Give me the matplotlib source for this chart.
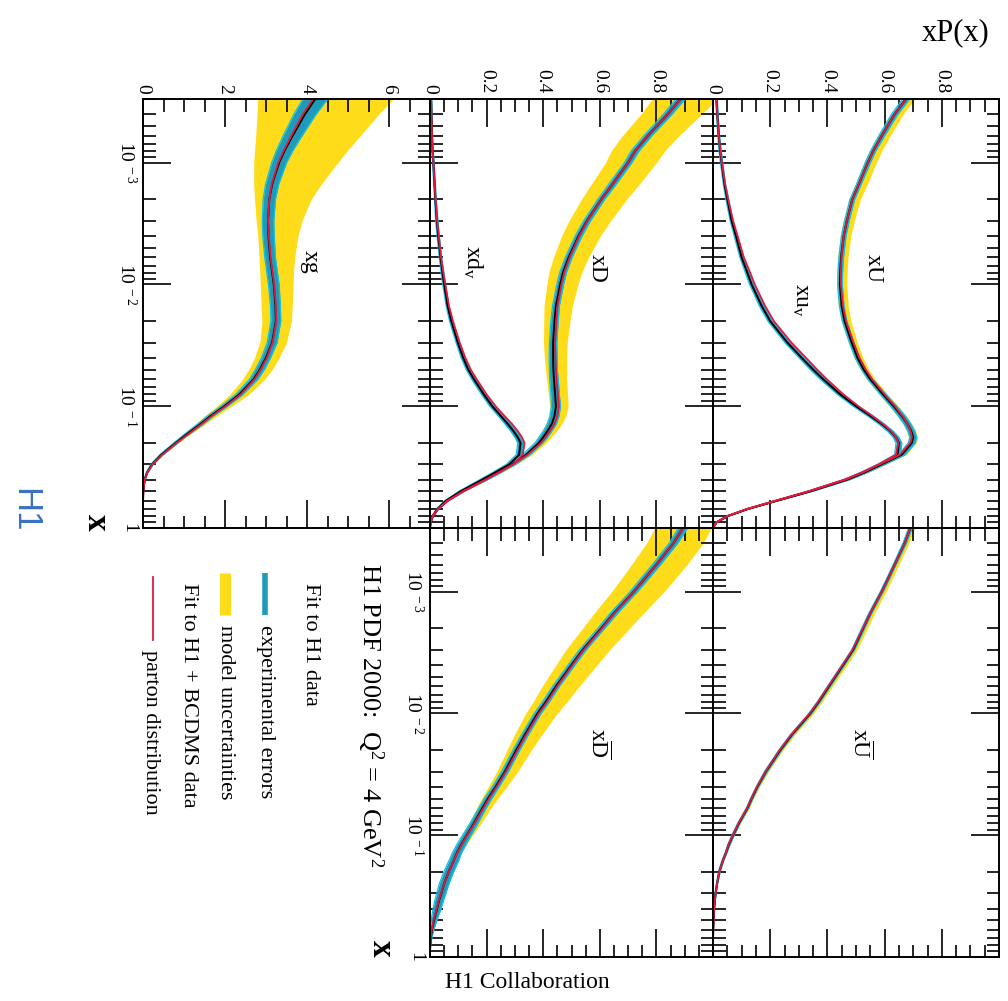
import matplotlib
matplotlib.use('Agg')
import matplotlib.pyplot as plt
from matplotlib.ticker import FixedLocator, FixedFormatter, LogLocator, MultipleLocator, NullFormatter

plt.rcParams['font.family'] = ['Liberation Serif', 'DejaVu Serif']
plt.rcParams['mathtext.fontset'] = 'custom'
plt.rcParams['mathtext.rm'] = 'Liberation Serif'
plt.rcParams['mathtext.it'] = 'Liberation Serif:italic'

# x grid shared by all distributions
xs = [3e-4, 4e-4, 6e-4, 8e-4, 1e-3,
      1.5e-3, 2e-3, 3e-3, 4e-3, 6e-3,
      8e-3, 0.01, 0.015, 0.02, 0.03,
      0.04, 0.05, 0.06, 0.08, 0.1,
      0.12, 0.14, 0.16, 0.18, 0.2,
      0.25, 0.3, 0.35, 0.4, 0.5,
      0.6, 0.7, 0.8, 0.9, 1.0]

# xU: central fit, experimental error, model band below/above, H1+BCDMS fit
xU_c = [0.675, 0.635, 0.59, 0.56, 0.541,
        0.51, 0.487, 0.468, 0.457, 0.448,
        0.445, 0.444, 0.45, 0.46, 0.485,
        0.505, 0.527, 0.55, 0.595, 0.632,
        0.66, 0.68, 0.693, 0.70, 0.695,
        0.66, 0.59, 0.53, 0.47, 0.34,
        0.22, 0.12, 0.05, 0.012, 0]
xU_err = [0.012, 0.011, 0.01, 0.009, 0.009,
          0.008, 0.008, 0.008, 0.008, 0.008,
          0.008, 0.008, 0.008, 0.008, 0.008,
          0.008, 0.008, 0.009, 0.01, 0.011,
          0.012, 0.012, 0.012, 0.012, 0.012,
          0.012, 0.011, 0.01, 0.009, 0.007,
          0.005, 0.003, 0.002, 0.001, 0]
xU_dlo = [0.012, 0.012, 0.012, 0.012, 0.012,
          0.012, 0.012, 0.012, 0.012, 0.012,
          0.012, 0.012, 0.012, 0.012, 0.012,
          0.012, 0.012, 0.013, 0.014, 0.015,
          0.016, 0.016, 0.016, 0.016, 0.016,
          0.015, 0.014, 0.012, 0.011, 0.008,
          0.006, 0.004, 0.002, 0.001, 0]
xU_dhi = [0.03, 0.03, 0.03, 0.03, 0.03,
          0.03, 0.028, 0.026, 0.025, 0.024,
          0.024, 0.024, 0.023, 0.022, 0.02,
          0.019, 0.018, 0.017, 0.016, 0.016,
          0.016, 0.016, 0.016, 0.016, 0.016,
          0.015, 0.014, 0.012, 0.011, 0.008,
          0.006, 0.004, 0.002, 0.001, 0]
xU_bcdms = [0.675, 0.635, 0.59, 0.56, 0.541,
            0.51, 0.487, 0.468, 0.457, 0.449,
            0.447, 0.447, 0.454, 0.465, 0.491,
            0.512, 0.534, 0.556, 0.6, 0.636,
            0.662, 0.68, 0.691, 0.696, 0.69,
            0.654, 0.584, 0.524, 0.465, 0.336,
            0.218, 0.119, 0.05, 0.012, 0]

# xu_v
xuv_c = [0.012, 0.015, 0.02, 0.025, 0.03,
         0.04, 0.05, 0.065, 0.08, 0.10,
         0.12, 0.135, 0.17, 0.20, 0.26,
         0.31, 0.35, 0.385, 0.445, 0.50,
         0.55, 0.59, 0.62, 0.64, 0.65,
         0.645, 0.585, 0.525, 0.466, 0.337,
         0.218, 0.119, 0.05, 0.012, 0]
xuv_err = [0.003, 0.003, 0.003, 0.004, 0.004,
           0.004, 0.005, 0.005, 0.006, 0.006,
           0.007, 0.007, 0.008, 0.008, 0.009,
           0.009, 0.01, 0.01, 0.01, 0.01,
           0.01, 0.01, 0.01, 0.01, 0.01,
           0.01, 0.01, 0.009, 0.008, 0.006,
           0.005, 0.003, 0.002, 0.001, 0]
xuv_bcdms = [0.012, 0.015, 0.02, 0.026, 0.031,
             0.042, 0.053, 0.07, 0.086, 0.108,
             0.13, 0.146, 0.182, 0.213, 0.274,
             0.325, 0.364, 0.398, 0.456, 0.508,
             0.556, 0.594, 0.622, 0.64, 0.648,
             0.64, 0.58, 0.52, 0.46, 0.332,
             0.215, 0.117, 0.049, 0.012, 0]

# xD
xD_c = [0.885, 0.84, 0.77, 0.725, 0.70,
        0.645, 0.605, 0.555, 0.525, 0.49,
        0.47, 0.46, 0.445, 0.44, 0.435,
        0.435, 0.436, 0.438, 0.442, 0.445,
        0.44, 0.43, 0.415, 0.40, 0.385,
        0.34, 0.29, 0.24, 0.195, 0.115,
        0.06, 0.028, 0.01, 0.002, 0]
xD_err = [0.016, 0.015, 0.014, 0.014, 0.013,
          0.013, 0.012, 0.012, 0.012, 0.012,
          0.012, 0.012, 0.012, 0.013, 0.013,
          0.014, 0.014, 0.015, 0.015, 0.016,
          0.016, 0.016, 0.015, 0.015, 0.014,
          0.013, 0.012, 0.011, 0.009, 0.006,
          0.004, 0.002, 0.001, 0, 0]
xD_dlo = [0.10, 0.095, 0.09, 0.085, 0.08,
          0.075, 0.07, 0.064, 0.06, 0.054,
          0.05, 0.047, 0.042, 0.038, 0.034,
          0.031, 0.028, 0.026, 0.024, 0.022,
          0.02, 0.018, 0.016, 0.015, 0.014,
          0.012, 0.01, 0.009, 0.008, 0.005,
          0.003, 0.002, 0.001, 0, 0]
xD_dhi = [0.13, 0.12, 0.11, 0.105, 0.1,
          0.095, 0.09, 0.083, 0.077, 0.07,
          0.066, 0.063, 0.058, 0.055, 0.05,
          0.048, 0.046, 0.045, 0.044, 0.043,
          0.04, 0.036, 0.032, 0.028, 0.025,
          0.02, 0.016, 0.013, 0.01, 0.006,
          0.004, 0.002, 0.001, 0, 0]
xD_bcdms = [0.885, 0.84, 0.77, 0.725, 0.70,
            0.645, 0.605, 0.556, 0.527, 0.493,
            0.474, 0.464, 0.45, 0.446, 0.442,
            0.443, 0.445, 0.447, 0.452, 0.455,
            0.45, 0.44, 0.424, 0.408, 0.392,
            0.345, 0.294, 0.243, 0.197, 0.116,
            0.06, 0.028, 0.01, 0.002, 0]

# xd_v
xdv_c = [0.004, 0.005, 0.007, 0.009, 0.012,
         0.016, 0.019, 0.024, 0.029, 0.037,
         0.044, 0.05, 0.062, 0.075, 0.098,
         0.117, 0.135, 0.155, 0.19, 0.22,
         0.25, 0.275, 0.295, 0.31, 0.32,
         0.315, 0.28, 0.23, 0.185, 0.108,
         0.055, 0.025, 0.009, 0.002, 0]
xdv_err = [0.002, 0.002, 0.002, 0.002, 0.003,
           0.003, 0.003, 0.004, 0.004, 0.004,
           0.005, 0.005, 0.005, 0.006, 0.006,
           0.007, 0.007, 0.008, 0.008, 0.009,
           0.009, 0.01, 0.01, 0.01, 0.01,
           0.01, 0.01, 0.009, 0.008, 0.006,
           0.004, 0.002, 0.001, 0, 0]
xdv_bcdms = [0.004, 0.005, 0.007, 0.009, 0.012,
             0.016, 0.02, 0.025, 0.031, 0.039,
             0.047, 0.054, 0.067, 0.081, 0.105,
             0.125, 0.144, 0.165, 0.2, 0.232,
             0.263, 0.29, 0.31, 0.325, 0.334,
             0.328, 0.294, 0.244, 0.198, 0.118,
             0.062, 0.028, 0.01, 0.002, 0]

# xUbar
xUb_c = [0.69, 0.67, 0.635, 0.61, 0.59,
         0.55, 0.525, 0.49, 0.455, 0.405,
         0.37, 0.34, 0.275, 0.235, 0.185,
         0.155, 0.135, 0.12, 0.09, 0.07,
         0.055, 0.045, 0.035, 0.028, 0.022,
         0.014, 0.009, 0.006, 0.004, 0.002,
         0.001, 0, 0, 0, 0]
xUb_err = [0.006, 0.006, 0.005, 0.005, 0.005,
           0.005, 0.005, 0.005, 0.005, 0.005,
           0.005, 0.005, 0.005, 0.005, 0.005,
           0.004, 0.004, 0.004, 0.004, 0.004,
           0.004, 0.003, 0.003, 0.003, 0.003,
           0.002, 0.002, 0.002, 0.001, 0.001,
           0, 0, 0, 0, 0]
xUb_dlo = [0.008, 0.008, 0.008, 0.008, 0.008,
           0.008, 0.008, 0.008, 0.008, 0.008,
           0.007, 0.007, 0.007, 0.006, 0.006,
           0.005, 0.005, 0.005, 0.004, 0.004,
           0.003, 0.003, 0.003, 0.002, 0.002,
           0.002, 0.001, 0.001, 0.001, 0,
           0, 0, 0, 0, 0]
xUb_dhi = [0.015, 0.015, 0.015, 0.015, 0.015,
           0.015, 0.015, 0.014, 0.014, 0.013,
           0.012, 0.012, 0.011, 0.01, 0.009,
           0.008, 0.007, 0.007, 0.006, 0.005,
           0.004, 0.004, 0.003, 0.003, 0.003,
           0.002, 0.002, 0.001, 0.001, 0,
           0, 0, 0, 0, 0]
xUb_bcdms = [0.69, 0.67, 0.635, 0.61, 0.59,
             0.55, 0.524, 0.488, 0.453, 0.403,
             0.368, 0.338, 0.273, 0.233, 0.184,
             0.154, 0.134, 0.119, 0.089, 0.069,
             0.054, 0.045, 0.035, 0.028, 0.022,
             0.014, 0.009, 0.006, 0.004, 0.002,
             0.001, 0, 0, 0, 0]

# xDbar
xDb_c = [0.894, 0.86, 0.80, 0.755, 0.72,
         0.65, 0.605, 0.54, 0.50, 0.445,
         0.41, 0.38, 0.335, 0.305, 0.265,
         0.232, 0.205, 0.185, 0.155, 0.13,
         0.11, 0.095, 0.085, 0.075, 0.066,
         0.05, 0.04, 0.031, 0.025, 0.014,
         0.007, 0.003, 0.001, 0, 0]
xDb_err = [0.016, 0.015, 0.014, 0.014, 0.013,
           0.013, 0.012, 0.012, 0.012, 0.012,
           0.012, 0.012, 0.012, 0.012, 0.012,
           0.012, 0.013, 0.013, 0.014, 0.015,
           0.016, 0.016, 0.017, 0.017, 0.017,
           0.017, 0.016, 0.015, 0.014, 0.01,
           0.006, 0.003, 0.001, 0, 0]
xDb_dlo = [0.10, 0.095, 0.088, 0.082, 0.078,
           0.07, 0.066, 0.06, 0.055, 0.049,
           0.045, 0.042, 0.037, 0.033, 0.029,
           0.026, 0.023, 0.021, 0.018, 0.015,
           0.013, 0.011, 0.01, 0.009, 0.008,
           0.006, 0.005, 0.004, 0.003, 0.002,
           0.001, 0, 0, 0, 0]
xDb_dhi = [0.10, 0.105, 0.108, 0.108, 0.107,
           0.105, 0.1, 0.095, 0.09, 0.082,
           0.075, 0.069, 0.06, 0.053, 0.045,
           0.039, 0.034, 0.03, 0.025, 0.021,
           0.018, 0.015, 0.013, 0.011, 0.01,
           0.008, 0.006, 0.005, 0.004, 0.002,
           0.001, 0, 0, 0, 0]
xDb_bcdms = [0.894, 0.86, 0.80, 0.755, 0.72,
             0.651, 0.607, 0.543, 0.503, 0.449,
             0.414, 0.384, 0.339, 0.309, 0.268,
             0.235, 0.208, 0.188, 0.157, 0.131,
             0.111, 0.096, 0.085, 0.075, 0.066,
             0.05, 0.039, 0.03, 0.024, 0.013,
             0.006, 0.003, 0.001, 0, 0]

# xg
xg_c = [4.2, 3.95, 3.65, 3.45, 3.32,
        3.15, 3.08, 3.05, 3.06, 3.1,
        3.15, 3.19, 3.23, 3.24, 3.15,
        3.0, 2.85, 2.7, 2.35, 1.98,
        1.65, 1.4, 1.17, 0.97, 0.8,
        0.45, 0.22, 0.1, 0.04, 0.008,
        0, 0, 0, 0, 0]
xg_err = [0.3, 0.27, 0.23, 0.2, 0.18,
          0.16, 0.15, 0.14, 0.14, 0.13,
          0.13, 0.13, 0.12, 0.12, 0.12,
          0.11, 0.11, 0.1, 0.09, 0.08,
          0.07, 0.07, 0.06, 0.05, 0.05,
          0.04, 0.03, 0.02, 0.012, 0.004,
          0, 0, 0, 0, 0]
xg_dlo = [1.4, 1.17, 0.9, 0.73, 0.62,
          0.45, 0.36, 0.29, 0.26, 0.27,
          0.3, 0.33, 0.35, 0.34, 0.3,
          0.28, 0.27, 0.27, 0.23, 0.18,
          0.15, 0.12, 0.1, 0.08, 0.07,
          0.04, 0.02, 0.01, 0.005, 0.002,
          0, 0, 0, 0, 0]
xg_dhi = [1.9, 1.8, 1.65, 1.53, 1.43,
          1.2, 1.02, 0.83, 0.72, 0.6,
          0.52, 0.47, 0.41, 0.38, 0.35,
          0.32, 0.3, 0.27, 0.23, 0.18,
          0.15, 0.12, 0.1, 0.08, 0.07,
          0.05, 0.03, 0.02, 0.01, 0.004,
          0.002, 0, 0, 0, 0]
xg_bcdms = [4.15, 3.9, 3.62, 3.43, 3.3,
            3.14, 3.08, 3.05, 3.07, 3.11,
            3.16, 3.2, 3.24, 3.25, 3.16,
            3.02, 2.87, 2.72, 2.38, 2.01,
            1.68, 1.43, 1.2, 1.0, 0.82,
            0.47, 0.23, 0.105, 0.042, 0.009,
            0, 0, 0, 0, 0]

YELLOW = '#ffdc1a'
TEAL = '#1f9ab8'
CYAN = '#10c0ea'
RED = '#e8173c'

W, H = 1008, 1001
fig = plt.figure(figsize=(W / 100, H / 100), dpi=100)

# overlay in pixel units for free text and the legend
ov = fig.add_axes([0, 0, 1, 1])
ov.set_xlim(0, W)
ov.set_ylim(H, 0)
ov.axis('off')


def rect(x0, y0, x1, y1):
    return [x0 / W, 1 - y1 / H, (x1 - x0) / W, (y1 - y0) / H]


def make_panel(r, pmax, pmajor, pminor, plabels, xlabels):
    ax = fig.add_axes(rect(*r))
    ax.set_yscale('log')
    ax.set_ylim(1, 3e-4)
    ax.set_xlim(0, pmax)
    ax.patch.set_alpha(0)
    for s in ax.spines.values():
        s.set_linewidth(1.4)
        s.set_zorder(6)
    ax.xaxis.set_minor_locator(MultipleLocator(pminor))
    ax.yaxis.set_major_locator(FixedLocator([1e-3, 1e-2, 1e-1, 1]))
    ax.yaxis.set_minor_locator(LogLocator(base=10, subs=range(2, 10), numticks=20))
    ax.yaxis.set_minor_formatter(NullFormatter())
    ax.tick_params(which='both', direction='in', top=True, bottom=True, left=True, right=True,
                   labelbottom=False, labeltop=plabels, labelleft=xlabels, labelright=False,
                   width=1.2, labelsize=14, pad=4)
    ax.tick_params(which='major', length=20)
    ax.tick_params(which='minor', length=9)
    ticks = [pmajor * i for i in range(int(round(pmax / pmajor)) + 1)]
    ax.xaxis.set_major_locator(FixedLocator(ticks))
    if plabels:
        labs = ['%g' % t for t in ticks]
        labs[-1] = ''
        ax.xaxis.set_major_formatter(FixedFormatter(labs))
        for t in ax.get_xticklabels():
            t.set_rotation(-90)
    else:
        ax.xaxis.set_major_formatter(NullFormatter())
    if xlabels:
        ax.yaxis.set_major_formatter(FixedFormatter(
            [r'$10^{\ -3}$', r'$10^{\ -2}$', r'$10^{\ -1}$', '1']))
        for t in ax.get_yticklabels():
            t.set_rotation(-90)
            t.set_verticalalignment('center')
    else:
        ax.yaxis.set_major_formatter(NullFormatter())
    return ax


def draw_pdf(ax, c, err, bcdms, dlo=None, dhi=None):
    if dlo is not None:
        mlo = [a - b for a, b in zip(c, dlo)]
        mhi = [a + b for a, b in zip(c, dhi)]
        ax.fill_betweenx(xs, mlo, mhi, color=YELLOW, lw=0, zorder=1)
    lo = [a - b for a, b in zip(c, err)]
    hi = [a + b for a, b in zip(c, err)]
    ax.fill_betweenx(xs, lo, hi, color=TEAL, lw=0, zorder=2)
    ax.plot(lo, xs, color=CYAN, lw=0.9, zorder=3)
    ax.plot(hi, xs, color=CYAN, lw=0.9, zorder=3)
    ax.plot(c, xs, color='black', lw=1.4, zorder=4)
    ax.plot(bcdms, xs, color=RED, lw=1.3, zorder=5)


colL, colM, colR, colE = 143, 430, 713, 999
rowT, rowM, rowB = 99, 528, 957

ax_U = make_panel((colR, rowT, colE, rowM), 1.0, 0.2, 0.05, True, False)
draw_pdf(ax_U, xU_c, xU_err, xU_bcdms, xU_dlo, xU_dhi)
draw_pdf(ax_U, xuv_c, xuv_err, xuv_bcdms)

ax_D = make_panel((colM, rowT, colR, rowM), 1.0, 0.2, 0.05, True, False)
draw_pdf(ax_D, xD_c, xD_err, xD_bcdms, xD_dlo, xD_dhi)
draw_pdf(ax_D, xdv_c, xdv_err, xdv_bcdms)

ax_g = make_panel((colL, rowT, colM, rowM), 7.0, 2.0, 0.5, True, True)
draw_pdf(ax_g, xg_c, xg_err, xg_bcdms, xg_dlo, xg_dhi)

ax_Ub = make_panel((colR, rowM, colE, rowB), 1.0, 0.2, 0.05, False, False)
draw_pdf(ax_Ub, xUb_c, xUb_err, xUb_bcdms, xUb_dlo, xUb_dhi)

ax_Db = make_panel((colM, rowM, colR, rowB), 1.0, 0.2, 0.05, False, True)
draw_pdf(ax_Db, xDb_c, xDb_err, xDb_bcdms, xDb_dlo, xDb_dhi)

# panel names
rot = dict(rotation=-90, ha='center', va='center', fontsize=17)
ov.text(873, 268, r'x$\mathregular{U}$', **rot)
ov.text(800, 300, r'$\mathregular{xu_v}$', **rot)
ov.text(597, 268, 'xD', **rot)
ov.text(473, 262, r'$\mathregular{xd_v}$', **rot)
ov.text(310, 262, 'xg', **rot)
ov.text(860, 743, r'$\mathregular{x\overline{U}}$', **rot)
ov.text(598, 743, r'$\mathregular{x\overline{D}}$', **rot)

# axis titles
ov.text(956, 33, 'xP(x)', ha='center', va='center', fontsize=22)
ov.text(96, 522, 'x', rotation=-90, ha='center', va='center', fontsize=24, fontweight='bold')
ov.text(381, 948, 'x', rotation=-90, ha='center', va='center', fontsize=24, fontweight='bold')
ov.text(527, 982, 'H1 Collaboration', ha='center', va='center', fontsize=17)
ov.text(25, 510, 'H1', rotation=-90, ha='center', va='center', fontsize=25,
        color='#3a6fc4', family='Liberation Sans')

# legend
lt = dict(rotation=-90, ha='center', va='top', fontsize=16)
ov.text(370, 563, r'H1 PDF 2000:  Q$^{2}$ = 4 GeV$^{2}$', rotation=-90, ha='center', va='top', fontsize=19)
ov.text(310, 583, 'Fit to H1 data', **lt)
ov.plot([265, 265], [573, 615], color=TEAL, lw=4, solid_capstyle='butt')
ov.text(265, 625, 'experimental errors', **lt)
ov.plot([225, 225], [573, 615], color=YELLOW, lw=8, solid_capstyle='butt')
ov.text(225, 625, 'model uncertainties', **lt)
ov.text(188, 583, 'Fit to H1 + BCDMS data', **lt)
ov.plot([153, 153], [577, 640], color=RED, lw=1.3)
ov.text(150, 650, 'parton distribution', **lt)

fig.savefig('out.png', dpi=100)
